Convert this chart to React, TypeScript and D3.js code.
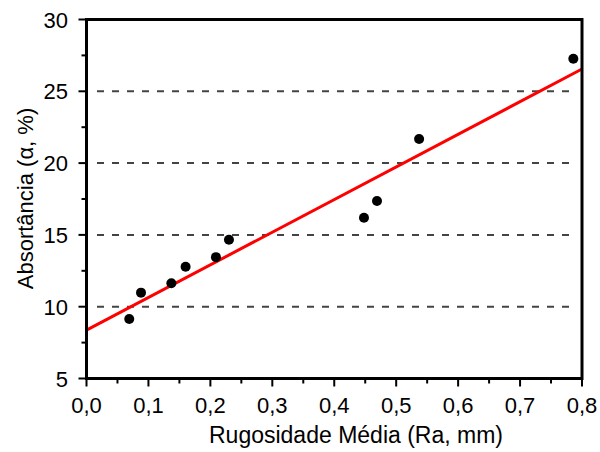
import React from "react";
import * as d3 from "d3";

const xValues = [0.069, 0.088, 0.137, 0.16, 0.209, 0.23, 0.448, 0.469, 0.537, 0.786];
const yValues = [9.14, 10.98, 11.63, 12.78, 13.45, 14.66, 16.2, 17.36, 21.68, 27.27];
const fitX = [0, 0.8];
const fitY = [8.37, 26.55];
const xTicks = [0, 0.1, 0.2, 0.3, 0.4, 0.5, 0.6, 0.7, 0.8];
const xMinor = [0.05, 0.15, 0.25, 0.35, 0.45, 0.55, 0.65, 0.75];
const yTicks = [5, 10, 15, 20, 25, 30];
const yMinor = [7.5, 12.5, 17.5, 22.5, 27.5];
const gridValues = [10, 15, 20, 25];
const xTitle = "Rugosidade Média (Ra, mm)";
const yTitle = "Absortância (α, %)";

export default function App() {
  const W = 600, H = 452;
  const left = 86.5, right = 582, top = 19.5, bottom = 378.5;
  const x = d3.scaleLinear().domain([0, 0.8]).range([left, right]);
  const y = d3.scaleLinear().domain([5, 30]).range([bottom, top]);
  const fmt = (v: number) => v.toFixed(1).replace(".", ",");
  const font = "'Liberation Sans', Arial, sans-serif";
  const line = d3.line<number>().x((d, i) => x(fitX[i])).y((d, i) => y(fitY[i]));
  return (
    <svg width={W} height={H} style={{ position: "absolute", left: 0, top: 0, background: "#fff" }} fontFamily={font}>
      {gridValues.map((g) => (
        <line key={g} x1={97} x2={576} y1={y(g)} y2={y(g)} stroke="#444" strokeWidth={2} strokeDasharray="7,8" />
      ))}
      <path d={line(fitX) || ""} stroke="#ff0000" strokeWidth={3} fill="none" />
      {xValues.map((v, i) => (
        <circle key={i} cx={x(v)} cy={y(yValues[i])} r={5} fill="#000" />
      ))}
      <rect x={left} y={top} width={right - left} height={bottom - top} fill="none" stroke="#000" strokeWidth={3} />
      {xTicks.map((t) => (
        <g key={t}>
          <line x1={x(t)} x2={x(t)} y1={bottom} y2={bottom + 8} stroke="#000" strokeWidth={2} />
          <text x={x(t)} y={413} fontSize={22} textAnchor="middle" fill="#000">{fmt(t)}</text>
        </g>
      ))}
      {xMinor.map((t) => (
        <line key={t} x1={x(t)} x2={x(t)} y1={bottom} y2={bottom + 5} stroke="#000" strokeWidth={2} />
      ))}
      {yTicks.map((t) => (
        <g key={t}>
          <line x1={left - 8} x2={left} y1={y(t)} y2={y(t)} stroke="#000" strokeWidth={2} />
          <text x={68} y={y(t) + 8} fontSize={22} textAnchor="end" fill="#000">{t}</text>
        </g>
      ))}
      {yMinor.map((t) => (
        <line key={t} x1={left - 5} x2={left} y1={y(t)} y2={y(t)} stroke="#000" strokeWidth={2} />
      ))}
      <text x={356} y={443} fontSize={23} textAnchor="middle" fill="#000">{xTitle}</text>
      <text transform={`translate(33,198.5) rotate(-90)`} fontSize={22} textAnchor="middle" fill="#000">{yTitle}</text>
    </svg>
  );
}
